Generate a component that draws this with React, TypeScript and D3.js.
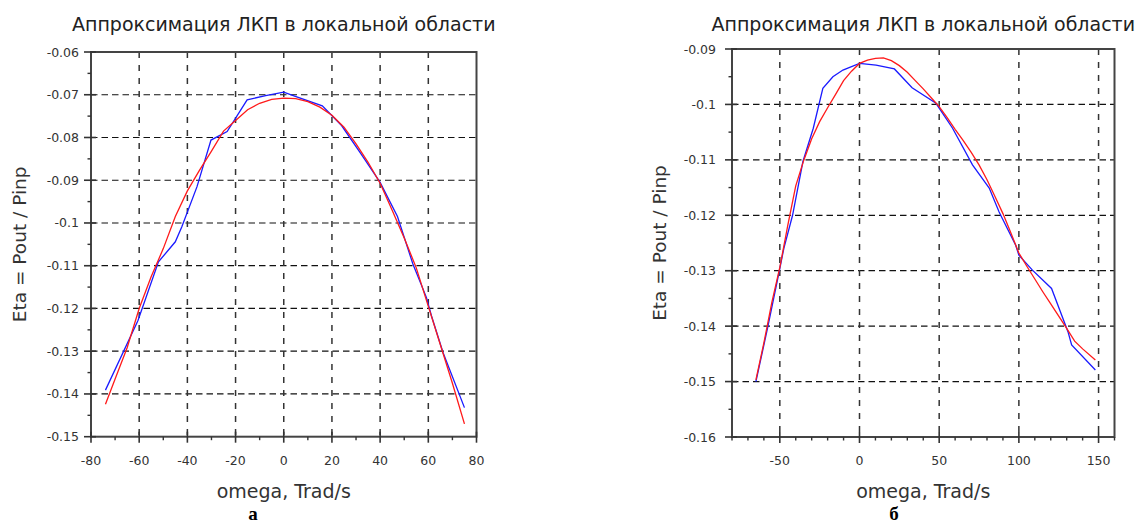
import React from "react";
import * as d3 from "d3";

// ---------- data ----------
const titleText = "Аппроксимация ЛКП в локальной области";
const xLabelText = "omega, Trad/s";
const yLabelText = "Eta = Pout / Pinp";

// Left panel (а)
const leftXTicks = [-80, -60, -40, -20, 0, 20, 40, 60, 80];
const leftYTicks = [-0.06, -0.07, -0.08, -0.09, -0.1, -0.11, -0.12, -0.13, -0.14, -0.15];
const leftBlueX = [-74, -60.5, -52, -45, -42.3, -36, -30.2, -23.5, -15.2, -7.5, 0, 4.5, 16, 24, 32, 40, 47.2, 53.6, 59.2, 61.3, 66.1, 75];
const leftBlueY = [-0.1391, -0.1228, -0.1091, -0.1044, -0.1009, -0.0915, -0.0806, -0.0786, -0.0712, -0.0702, -0.0694, -0.0703, -0.0726, -0.0772, -0.0838, -0.0905, -0.0985, -0.1096, -0.1174, -0.1217, -0.1303, -0.1432];
const leftRedX = [-74, -70, -65, -60, -55, -50, -45, -40, -35, -30, -25, -20, -15, -10, -5, 0, 5, 10, 15, 20, 25, 30, 35, 40, 45, 50, 55, 60, 65, 70, 75];
const leftRedY = [-0.1424, -0.1365, -0.1292, -0.12, -0.1125, -0.106, -0.0985, -0.0925, -0.0877, -0.0832, -0.0785, -0.076, -0.0735, -0.072, -0.0711, -0.0708, -0.0709, -0.0716, -0.0729, -0.0748, -0.0776, -0.0815, -0.0858, -0.0907, -0.097, -0.1035, -0.1105, -0.1195, -0.1285, -0.1375, -0.147];

// Right panel (б)
const rightXTicks = [-50, 0, 50, 100, 150];
const rightYTicks = [-0.09, -0.1, -0.11, -0.12, -0.13, -0.14, -0.15, -0.16];
const rightBlueX = [-65, -57.5, -50, -47.5, -42, -35.5, -29, -23, -16.7, -10.4, 0, 10.4, 21.9, 33, 48, 58.4, 70.9, 81.4, 87.6, 98, 100, 108.5, 120.5, 130.8, 133.1, 148];
const rightBlueY = [-0.15, -0.1401, -0.1296, -0.126, -0.12, -0.1103, -0.1043, -0.0971, -0.095, -0.0938, -0.0926, -0.0929, -0.0936, -0.097, -0.0998, -0.1043, -0.1109, -0.1151, -0.1194, -0.1254, -0.1272, -0.1299, -0.1332, -0.141, -0.1434, -0.1479];
const rightRedX = [-65, -60, -55, -50, -45, -40, -35, -30, -25, -20, -15, -10, -5, 0, 5, 10, 15, 20, 25, 30, 35, 40, 45, 50, 55, 60, 65, 70, 75, 80, 85, 90, 95, 100, 105, 110, 115, 120, 125, 130, 135, 140, 148];
const rightRedY = [-0.1497, -0.143, -0.1357, -0.1294, -0.1218, -0.1147, -0.1101, -0.1062, -0.1031, -0.1006, -0.0982, -0.0957, -0.094, -0.0926, -0.092, -0.0917, -0.0916, -0.0921, -0.093, -0.0942, -0.0957, -0.0972, -0.0988, -0.1004, -0.1024, -0.1045, -0.1065, -0.1086, -0.1109, -0.1136, -0.1166, -0.1197, -0.1232, -0.1268, -0.1292, -0.1315, -0.1338, -0.136, -0.1382, -0.1404, -0.1427, -0.1441, -0.1461];

const FONT = "'DejaVu Sans', sans-serif";

type PanelProps = {
  xDomain: [number, number];
  yDomain: [number, number];
  xRange: [number, number];
  yRange: [number, number];
  xTicks: number[];
  yTicks: number[];
  xMinorStep: number;
  yMinorStep: number;
  blueX: number[];
  blueY: number[];
  redX: number[];
  redY: number[];
  labelGap: number;
  yLabelX: number;
  subLabel: string;
  subLabelX: number;
};

function Panel(p: PanelProps) {
  const x = d3.scaleLinear().domain(p.xDomain).range(p.xRange);
  const y = d3.scaleLinear().domain(p.yDomain).range(p.yRange);
  const [x0, x1] = p.xRange;
  const [y0, y1] = p.yRange;
  const cx = (x0 + x1) / 2;
  const cy = (y0 + y1) / 2;
  const line = d3
    .line<[number, number]>()
    .x((d) => x(d[0]))
    .y((d) => y(d[1]));
  const blue = p.blueX.map((v, i) => [v, p.blueY[i]] as [number, number]);
  const red = p.redX.map((v, i) => [v, p.redY[i]] as [number, number]);

  const eps = 1e-9;
  const xMinor = d3
    .range(p.xDomain[0], p.xDomain[1] + eps, p.xMinorStep)
    .filter((v) => !p.xTicks.some((t) => Math.abs(t - v) < eps));
  const yLo = Math.min(...p.yDomain);
  const yHi = Math.max(...p.yDomain);
  const yMinor = d3
    .range(yLo, yHi + eps, p.yMinorStep)
    .filter((v) => !p.yTicks.some((t) => Math.abs(t - v) < 1e-6));

  const gridX = p.xTicks.filter((t) => t > p.xDomain[0] && t < p.xDomain[1]);
  const gridY = p.yTicks.filter((t) => t > yLo + eps && t < yHi - eps);

  const fmt = (v: number) => String(Math.round(v * 1000) / 1000);

  return (
    <g>
      {/* title */}
      <text x={cx} y={31} textAnchor="middle" fontFamily={FONT} fontSize={19} fill="#222">
        {titleText}
      </text>
      {/* grid */}
      {gridY.map((t) => (
        <line key={"gy" + t} x1={x0} x2={x1} y1={y(t)} y2={y(t)} stroke="#111" strokeWidth={1.2} strokeDasharray="6.5,4" />
      ))}
      {gridX.map((t) => (
        <line key={"gx" + t} x1={x(t)} x2={x(t)} y1={y0} y2={y1} stroke="#333" strokeWidth={1.5} strokeDasharray="6,7" />
      ))}
      {/* data */}
      <path d={line(blue) || ""} fill="none" stroke="#1a1aff" strokeWidth={1.3} />
      <path d={line(red) || ""} fill="none" stroke="#ff1a1a" strokeWidth={1.3} />
      {/* box */}
      <rect x={x0} y={y0} width={x1 - x0} height={y1 - y0} fill="none" stroke="#444" strokeWidth={2} />
      {/* x ticks */}
      {p.xTicks.map((t) => (
        <g key={"xt" + t}>
          <line x1={x(t)} x2={x(t)} y1={y1 - 5} y2={y1 + 6} stroke="#333" strokeWidth={1.6} />
          <text x={x(t)} y={465} textAnchor="middle" fontFamily={FONT} fontSize={12.5} fill="#333">
            {fmt(t)}
          </text>
        </g>
      ))}
      {xMinor.map((t) => (
        <line key={"xm" + t} x1={x(t)} x2={x(t)} y1={y1} y2={y1 + 3.5} stroke="#333" strokeWidth={1.4} />
      ))}
      {/* y ticks */}
      {p.yTicks.map((t) => (
        <g key={"yt" + t}>
          <line x1={x0 - 7} x2={x0 + 5} y1={y(t)} y2={y(t)} stroke="#333" strokeWidth={1.6} />
          <text x={x0 - p.labelGap} y={y(t) + 4.5} textAnchor="end" fontFamily={FONT} fontSize={12.5} fill="#333">
            {fmt(t)}
          </text>
        </g>
      ))}
      {yMinor.map((t) => (
        <line key={"ym" + t} x1={x0 - 3.5} x2={x0} y1={y(t)} y2={y(t)} stroke="#333" strokeWidth={1.4} />
      ))}
      {/* axis labels */}
      <text x={cx} y={498} textAnchor="middle" fontFamily={FONT} fontSize={19} fill="#333">
        {xLabelText}
      </text>
      <text
        transform={`translate(${p.yLabelX},${cy}) rotate(-90)`}
        textAnchor="middle"
        fontFamily={FONT}
        fontSize={18.5}
        fill="#333"
      >
        {yLabelText}
      </text>
      <text x={p.subLabelX} y={520} textAnchor="middle" fontFamily="'Liberation Serif', 'Times New Roman', serif" fontWeight="bold" fontSize={19} fill="#000">
        {p.subLabel}
      </text>
    </g>
  );
}

export default function App() {
  return (
    <svg
      width={1136}
      height={527}
      viewBox="0 0 1136 527"
      style={{ position: "absolute", left: 0, top: 0, background: "#fff" }}
    >
      <rect x={0} y={0} width={1136} height={527} fill="#fff" />
      <Panel
        xDomain={[-80, 80]}
        yDomain={[-0.06, -0.15]}
        xRange={[91, 476.5]}
        yRange={[52, 436.7]}
        xTicks={leftXTicks}
        yTicks={leftYTicks}
        xMinorStep={10}
        yMinorStep={0.005}
        blueX={leftBlueX}
        blueY={leftBlueY}
        redX={leftRedX}
        redY={leftRedY}
        labelGap={12}
        yLabelX={26}
        subLabel="а"
        subLabelX={253}
      />
      <Panel
        xDomain={[-80, 160]}
        yDomain={[-0.09, -0.16]}
        xRange={[732, 1114.5]}
        yRange={[49, 437]}
        xTicks={rightXTicks}
        yTicks={rightYTicks}
        xMinorStep={10}
        yMinorStep={0.005}
        blueX={rightBlueX}
        blueY={rightBlueY}
        redX={rightRedX}
        redY={rightRedY}
        labelGap={16}
        yLabelX={666}
        subLabel="б"
        subLabelX={894}
      />
    </svg>
  );
}
